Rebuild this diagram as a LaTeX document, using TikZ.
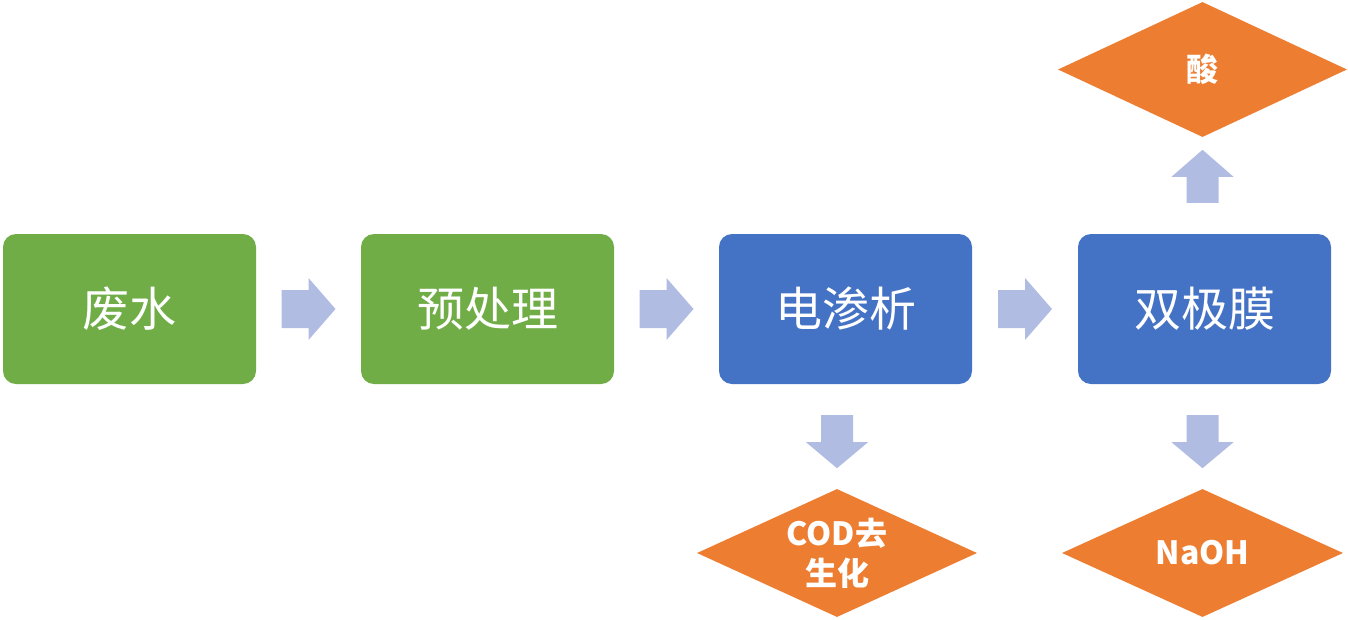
\documentclass[tikz,border=0pt]{standalone}
\usepackage{fontspec}
\newfontfamily\cjk{Noto Sans CJK SC}
\usetikzlibrary{shapes.geometric,calc}
\definecolor{boxgreen}{HTML}{70AD47}
\definecolor{boxblue}{HTML}{4472C4}
\definecolor{dmorange}{HTML}{ED7D31}
\definecolor{arrowblue}{HTML}{B0BCE2}
\tikzset{
  stepbox/.style={rectangle, rounded corners=13pt, minimum width=253pt, minimum height=150pt,
    inner sep=0pt, text=white, font=\cjk\fontsize{47}{52}\selectfont},
  greenbox/.style={stepbox, fill=boxgreen},
  bluebox/.style={stepbox, fill=boxblue},
  outdiamond/.style={diamond, aspect=2.15, fill=dmorange, inner sep=0pt, text=white, align=center,
    font=\cjk\bfseries\fontsize{32}{40}\selectfont},
  rarrow/.pic={\fill[arrowblue] (-27,-19) -- (0,-19) -- (0,-31) -- (27,0) -- (0,31) -- (0,19) -- (-27,19) -- cycle;},
  darrow/.pic={\fill[arrowblue] (-16,-27) -- (16,-27) -- (16,0) -- (31,0) -- (0,26) -- (-31,0) -- (-16,0) -- cycle;},
  uarrow/.pic={\fill[arrowblue] (-16,26) -- (16,26) -- (16,0) -- (31,0) -- (0,-27) -- (-31,0) -- (-16,0) -- cycle;},
}
\begin{document}
\begin{tikzpicture}[x=1pt,y=-1pt]
\useasboundingbox (0,0) rectangle (1348,619);
\node[greenbox] (fs) at (129.5,309) {废水};
\node[greenbox] (ycl) at (487.5,309) {预处理};
\node[bluebox] (dsx) at (845.5,309) {电渗析};
\node[bluebox] (sjm) at (1204.5,309) {双极膜};
\node[outdiamond, minimum width=289pt, minimum height=135pt] (acid) at (1202.5,69.5) {酸};
\node[outdiamond, minimum width=280pt, minimum height=128pt] (cod) at (837,553) {COD去\\生化};
\node[outdiamond, minimum width=281pt, minimum height=128pt] (naoh) at (1202.5,553) {NaOH};
\path ($(fs.east)!0.5!(ycl.west)$) pic {rarrow};
\path ($(ycl.east)!0.5!(dsx.west)$) pic {rarrow};
\path ($(dsx.east)!0.5!(sjm.west)$) pic {rarrow};
\path (cod.north |- dsx.south) ++(0,58) pic {darrow};
\path (naoh.north |- sjm.south) ++(0,58) pic {darrow};
\path (acid.south |- sjm.north) ++(0,-57) pic {uarrow};
\end{tikzpicture}
\end{document}
